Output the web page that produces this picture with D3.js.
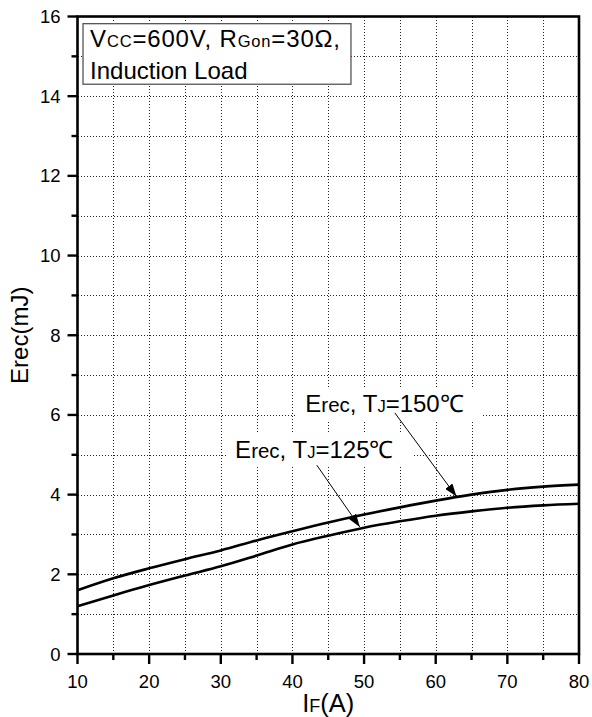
<!DOCTYPE html>
<html><head><meta charset="utf-8">
<script src="https://cdn.jsdelivr.net/npm/d3@7"></script>
<style>body{margin:0;background:#fff;} text{font-family:"Liberation Sans",Arial,sans-serif;fill:#000;}</style>
</head><body><svg id="c" width="592" height="717"></svg>
<script>
const currents=[10,15,20,25,30,35,40,45,50,55,60,65,70,75,80];
const erec150=[1.6,1.9,2.15,2.38,2.6,2.85,3.08,3.3,3.5,3.68,3.85,4.0,4.12,4.2,4.25];
const erec125=[1.2,1.47,1.73,1.97,2.2,2.47,2.75,2.97,3.17,3.33,3.47,3.58,3.67,3.73,3.77];
const xTickValues=[10,20,30,40,50,60,70,80];
const xMinorValues=[15,25,35,45,55,65,75];
const yTickValues=[0,2,4,6,8,10,12,14,16];
const yMinorValues=[1,3,5,7,9,11,13,15];
const xGridValues=[15,20,25,30,35,40,45,50,55,60,65,70,75];
const yGridValues=[1,2,3,4,5,6,7,8,9,10,11,12,13,14,15];
const label150=[["E","b"],["rec","m"],[", T","b"],["J","s"],["=150℃","b"]];
const label125=[["E","b"],["rec","m"],[", T","b"],["J","s"],["=125℃","b"]];
const anchor150=[41.8,6.07], arrow150=[[54.3,6.05],[62.9,3.95]];
const anchor125=[32.0,4.91], arrow125=[[43.4,4.74],[49.4,3.19]];
const boxLine1=[["V","b"],["CC","s"],["=600V, R","b"],["Gon","s"],["=30Ω,","b"]];
const boxLine2=[["Induction Load","b"]];
const xTitle=[["I","b"],["F","s"],["(A)","b"]];
const yTitle="Erec(mJ)";

const L=77.5,R=579,T=16.5,B=654;
const svg=d3.select("#c");
const x=d3.scaleLinear().domain([10,80]).range([L,R]);
const y=d3.scaleLinear().domain([0,16]).range([B,T]);
const sizes={b:24,m:20.5,s:16.5};
const snap=v=>Math.round(v)+0.5;

// grid
const g=svg.append("g").attr("stroke","#222").attr("stroke-width",1).attr("stroke-dasharray","1,2").attr("shape-rendering","crispEdges");
g.selectAll(".gx").data(xGridValues).join("line").attr("x1",d=>snap(x(d))).attr("x2",d=>snap(x(d))).attr("y1",T).attr("y2",B);
g.selectAll(".gy").data(yGridValues).join("line").attr("y1",d=>snap(y(d))).attr("y2",d=>snap(y(d))).attr("x1",L).attr("x2",R);

function rich(sel,segs){
  segs.forEach(s=>sel.append("tspan").attr("font-size",sizes[s[1]]).text(s[0]));
}

// annotations
svg.append("defs").append("marker").attr("id","ah").attr("markerUnits","userSpaceOnUse")
 .attr("markerWidth",14).attr("markerHeight",9).attr("refX",13).attr("refY",4.5).attr("orient","auto")
 .append("path").attr("d","M0,0 L13,4.5 L0,9 Z").attr("fill","#000");
function annot(segs,anchor,arr){
  const t=svg.append("text").attr("x",x(anchor[0])).attr("y",y(anchor[1]));
  rich(t,segs);
  const bb=t.node().getBBox();
  svg.insert("rect","text").attr("x",bb.x-9).attr("y",bb.y-3).attr("width",bb.width+28).attr("height",bb.height+6).attr("fill","#fff");
  svg.append("line").attr("x1",x(arr[0][0])).attr("y1",y(arr[0][1])).attr("x2",x(arr[1][0])).attr("y2",y(arr[1][1]))
   .attr("stroke","#000").attr("stroke-width",1).attr("marker-end","url(#ah)");
}
annot(label150,anchor150,arrow150);
annot(label125,anchor125,arrow125);

// curves
const line=d3.line().x((d,i)=>x(currents[i])).y(d=>y(d)).curve(d3.curveMonotoneX);
[erec150,erec125].forEach(s=>svg.append("path").attr("d",line(s)).attr("fill","none").attr("stroke","#000").attr("stroke-width",2.6));

// legend box
svg.append("rect").attr("x",x(10.77)).attr("y",y(15.82)).attr("width",x(48.17)-x(10.77)).attr("height",y(14.3)-y(15.82))
 .attr("fill","#fff").attr("stroke","#555").attr("stroke-width",1.3);
rich(svg.append("text").attr("x",x(11.75)).attr("y",y(15.24)).attr("textLength",250).attr("lengthAdjust","spacing"),boxLine1);
rich(svg.append("text").attr("x",x(11.75)).attr("y",y(14.43)),boxLine2);

// frame
svg.append("rect").attr("x",L).attr("y",T).attr("width",R-L).attr("height",B-T).attr("fill","none").attr("stroke","#000").attr("stroke-width",2.6);

// ticks
const tk=svg.append("g").attr("stroke","#000").attr("stroke-width",2.4);
tk.selectAll(".a").data(xTickValues).join("line").attr("x1",d=>x(d)).attr("x2",d=>x(d)).attr("y1",B).attr("y2",B+10);
tk.selectAll(".b").data(xMinorValues).join("line").attr("x1",d=>x(d)).attr("x2",d=>x(d)).attr("y1",B).attr("y2",B+6);
tk.selectAll(".c").data(yTickValues).join("line").attr("y1",d=>y(d)).attr("y2",d=>y(d)).attr("x1",L).attr("x2",L-10);
tk.selectAll(".d").data(yMinorValues).join("line").attr("y1",d=>y(d)).attr("y2",d=>y(d)).attr("x1",L).attr("x2",L-6);

svg.selectAll(".xl").data(xTickValues).join("text").attr("x",d=>x(d)).attr("y",B+34).attr("text-anchor","middle").attr("font-size",18.5).text(d=>d);
svg.selectAll(".yl").data(yTickValues).join("text").attr("x",L-17).attr("y",d=>y(d)+6.5).attr("text-anchor","end").attr("font-size",18.5).text(d=>d);

// titles
const xt=svg.append("text").attr("x",(L+R)/2).attr("y",712).attr("text-anchor","middle");
rich(xt,[["I","b"],["F","s"],["(A)","b"]].map((s,i)=>s));
xt.selectAll("tspan").attr("font-size",function(){return +d3.select(this).attr("font-size")+1.5;});
svg.append("text").attr("transform",`translate(28,${(T+B)/2}) rotate(-90)`).attr("text-anchor","middle").attr("font-size",24).text(yTitle);
</script></body></html>
